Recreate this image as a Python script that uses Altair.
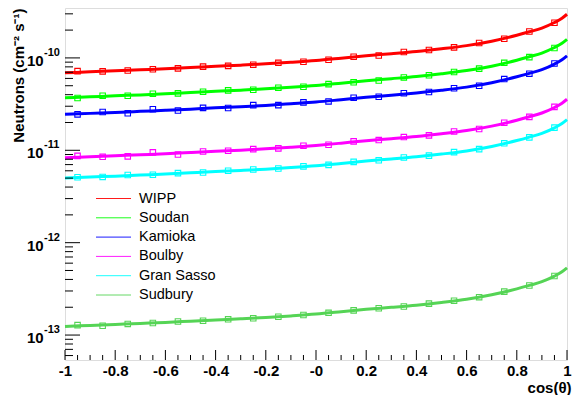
import altair as alt
import pandas as pd

# ---------------- data (values in units of 1e-11 neutrons cm^-2 s^-1) ----------------
series = ["WIPP", "Soudan", "Kamioka", "Boulby", "Gran Sasso", "Sudbury"]
colors = ["#ff0000", "#00ff00", "#0000ff", "#ff00ff", "#00ffff", "#55d455"]

x_line = [-1.0, -0.9, -0.8, -0.7, -0.6, -0.5, -0.4, -0.3, -0.2, -0.1, 0.0, 0.1,
          0.2, 0.3, 0.4, 0.5, 0.6, 0.7, 0.8, 0.85, 0.9, 0.95, 0.98, 1.0]

wipp_line = [6.9, 7.07, 7.25, 7.43, 7.62, 7.87, 8.11, 8.35, 8.63, 8.97, 9.38, 9.94,
             10.56, 11.11, 11.73, 12.56, 13.59, 15.18, 17.6, 19.18, 21.05, 24.15, 26.9, 29.7]
soudan_line = [3.7, 3.79, 3.89, 3.98, 4.09, 4.22, 4.35, 4.48, 4.63, 4.81, 5.03, 5.33,
               5.66, 5.96, 6.29, 6.73, 7.29, 8.14, 9.44, 10.29, 11.29, 12.95, 14.43, 15.91]
kamioka_line = [2.45, 2.51, 2.57, 2.64, 2.71, 2.79, 2.88, 2.96, 3.06, 3.19, 3.33, 3.53,
                3.75, 3.94, 4.17, 4.46, 4.83, 5.39, 6.25, 6.81, 7.47, 8.58, 9.56, 10.54]
boulby_line = [0.83, 0.851, 0.872, 0.894, 0.917, 0.946, 0.976, 1.004, 1.038, 1.079, 1.129, 1.195,
               1.270, 1.336, 1.411, 1.511, 1.635, 1.826, 2.117, 2.307, 2.532, 2.905, 3.237, 3.57]
gransasso_line = [0.50, 0.513, 0.525, 0.539, 0.553, 0.570, 0.588, 0.605, 0.625, 0.650, 0.680, 0.720,
                  0.765, 0.805, 0.850, 0.910, 0.985, 1.10, 1.275, 1.39, 1.525, 1.75, 1.95, 2.15]
sudbury_line = [0.0124, 0.01271, 0.01302, 0.01335, 0.0137, 0.01414, 0.01458, 0.0150, 0.0155, 0.01612,
                0.01686, 0.01786, 0.01897, 0.01996, 0.02108, 0.02257, 0.02443, 0.02728, 0.03162,
                0.03447, 0.03782, 0.0434, 0.04836, 0.05332]

x_pts = [-0.95, -0.85, -0.75, -0.65, -0.55, -0.45, -0.35, -0.25, -0.15, -0.05,
         0.05, 0.15, 0.25, 0.35, 0.45, 0.55, 0.65, 0.75, 0.85, 0.95]

wipp_pts = [7.2, 7.15, 7.3, 7.55, 7.7, 8.05, 8.2, 8.45, 8.85, 9.1,
            9.55, 10.3, 10.6, 11.6, 12.2, 13.0, 14.5, 16.1, 19.3, 24.0]
soudan_pts = [3.68, 3.9, 3.9, 4.1, 4.13, 4.3, 4.45, 4.52, 4.75, 4.88,
              5.2, 5.45, 5.7, 6.15, 6.5, 7.05, 7.65, 8.85, 10.2, 12.8]
kamioka_pts = [2.45, 2.6, 2.52, 2.78, 2.7, 2.88, 2.87, 3.08, 3.08, 3.3,
               3.38, 3.7, 3.8, 4.15, 4.28, 4.7, 5.0, 5.9, 6.75, 8.7]
boulby_pts = [0.87, 0.85, 0.86, 0.95, 0.90, 0.97, 0.99, 1.03, 1.05, 1.12,
              1.15, 1.25, 1.29, 1.39, 1.45, 1.6, 1.70, 1.99, 2.3, 2.95]
gransasso_pts = [0.51, 0.515, 0.54, 0.543, 0.566, 0.575, 0.60, 0.62, 0.635, 0.67,
                 0.695, 0.75, 0.78, 0.835, 0.875, 0.955, 1.03, 1.19, 1.38, 1.76]
sudbury_pts = [0.0128, 0.0126, 0.0132, 0.0135, 0.0140, 0.0143, 0.0148, 0.0152, 0.0158, 0.0165,
               0.0174, 0.0185, 0.0195, 0.0204, 0.0219, 0.0235, 0.0257, 0.0295, 0.0344, 0.0436]

x_major = [-1.0, -0.8, -0.6, -0.4, -0.2, 0.0, 0.2, 0.4, 0.6, 0.8, 1.0]
x_minor = [-0.95, -0.9, -0.85, -0.75, -0.7, -0.65, -0.55, -0.5, -0.45, -0.35, -0.3, -0.25,
           -0.15, -0.1, -0.05, 0.05, 0.1, 0.15, 0.25, 0.3, 0.35, 0.45, 0.5, 0.55,
           0.65, 0.7, 0.75, 0.85, 0.9, 0.95]
y_decades = [1e-13, 1e-12, 1e-11, 1e-10]
y_exponents = ["-13", "-12", "-11", "-10"]
y_minor = [6e-14, 7e-14, 8e-14, 9e-14,
           2e-13, 3e-13, 4e-13, 5e-13, 6e-13, 7e-13, 8e-13, 9e-13,
           2e-12, 3e-12, 4e-12, 5e-12, 6e-12, 7e-12, 8e-12, 9e-12,
           2e-11, 3e-11, 4e-11, 5e-11, 6e-11, 7e-11, 8e-11, 9e-11,
           2e-10, 3e-10]

UNIT = 1e-11
line_vals = [wipp_line, soudan_line, kamioka_line, boulby_line, gransasso_line, sudbury_line]
pt_vals = [wipp_pts, soudan_pts, kamioka_pts, boulby_pts, gransasso_pts, sudbury_pts]

line_df = pd.DataFrame([
    {"site": s, "c": x, "n": v * UNIT, "o": i}
    for s, vals in zip(series, line_vals) for i, (x, v) in enumerate(zip(x_line, vals))
])
pt_df = pd.DataFrame([
    {"site": s, "c": x, "n": v * UNIT}
    for s, vals in zip(series, pt_vals) for x, v in zip(x_pts, vals)
])

W, H = 502, 352
FONT = "Liberation Sans"

xs = alt.Scale(domain=[-1, 1], nice=False, zero=False)
ys = alt.Scale(type="log", domain=[5.37e-14, 3.47e-10], nice=False)
cs = alt.Scale(domain=series, range=colors)

x_enc = alt.X("c:Q", scale=xs, axis=alt.Axis(
    values=x_major, ticks=False, grid=False, domain=False,
    labelExpr="datum.value == 0 ? '-0' : replace(format(datum.value, '~g'), '\u2212', '-')",
    labelFont=FONT, labelFontWeight="bold", labelFontSize=15, labelColor="black",
    labelPadding=3, labelFlush=False,
    title="cos(\u03b8)", titleFont=FONT, titleFontWeight="bold", titleFontSize=15,
    titleColor="black", titleX=W + 4, titleY=27, titleAlign="right", titleAnchor="end",
    titleBaseline="middle"))
y_enc = alt.Y("n:Q", scale=ys, axis=alt.Axis(
    labels=False, ticks=False, grid=False, domain=False,
    title="Neutrons (cm\u207b\u00b2 s\u207b\u00b9)", titleFont=FONT, titleFontWeight="bold",
    titleFontSize=15, titleColor="black", titleAngle=270, titleX=-47, titleY=0,
    titleAlign="right", titleBaseline="middle"))

lines = alt.Chart(line_df).mark_line(strokeWidth=3, interpolate="monotone").encode(
    x=x_enc, y=y_enc,
    color=alt.Color("site:N", scale=cs, sort=series, legend=alt.Legend(
        title=None, orient="none", legendX=41, legendY=183,
        symbolType="M-2.5,0H2.5", symbolSize=196, symbolStrokeWidth=0.9,
        labelFont=FONT, labelFontSize=14.5, labelColor="black",
        rowPadding=4.3, labelOffset=18, padding=0)),
    detail="site:N", order="o:Q")

pts = alt.Chart(pt_df).mark_point(shape="square", filled=False, size=30, strokeWidth=1.1, opacity=1).encode(
    x=alt.X("c:Q", scale=xs), y=alt.Y("n:Q", scale=ys),
    color=alt.Color("site:N", scale=cs, legend=None))

xmaj = alt.Chart(pd.DataFrame({"c": x_major})).mark_rule(color="black", strokeWidth=1).encode(
    x=alt.X("c:Q", scale=xs), y=alt.value(H), y2=alt.value(H - 10))
xmin = alt.Chart(pd.DataFrame({"c": x_minor})).mark_rule(color="black", strokeWidth=1).encode(
    x=alt.X("c:Q", scale=xs), y=alt.value(H), y2=alt.value(H - 5))
ymaj = alt.Chart(pd.DataFrame({"n": y_decades})).mark_rule(color="black", strokeWidth=1).encode(
    y=alt.Y("n:Q", scale=ys), x=alt.value(0), x2=alt.value(15))
ymin = alt.Chart(pd.DataFrame({"n": y_minor})).mark_rule(color="black", strokeWidth=1).encode(
    y=alt.Y("n:Q", scale=ys), x=alt.value(0), x2=alt.value(8))

lab_df = pd.DataFrame({"n": y_decades, "e": y_exponents})
ylab = alt.Chart(lab_df).mark_text(font=FONT, fontWeight="bold", fontSize=15, align="left",
                                   baseline="middle", dy=3, color="black").encode(
    y=alt.Y("n:Q", scale=ys), x=alt.value(-38), text=alt.value("10"))
yexp = alt.Chart(lab_df).mark_text(font=FONT, fontWeight="bold", fontSize=11, align="left",
                                   baseline="middle", dy=-5, color="black").encode(
    y=alt.Y("n:Q", scale=ys), x=alt.value(-21), text="e:N")

chart = alt.layer(lines, pts, xmaj, xmin, ymaj, ymin, ylab, yexp).properties(
    width=W, height=H, autosize=alt.AutoSizeParams(type="none"),
    padding={"left": 57, "top": 0, "right": 5, "bottom": 35},
).configure_view(stroke="black", strokeWidth=1.5).configure(background="white")

chart.save("out.html", embed_options={"renderer": "svg", "actions": False})
